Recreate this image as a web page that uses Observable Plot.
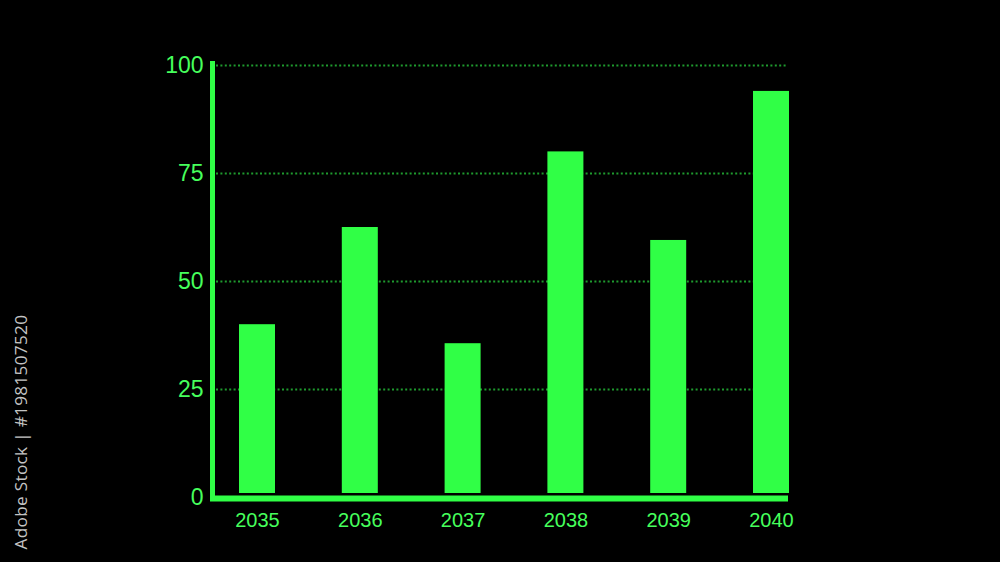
<!DOCTYPE html>
<html>
<head>
<meta charset="utf-8">
<script src="https://cdn.jsdelivr.net/npm/d3@7"></script>
<script src="https://cdn.jsdelivr.net/npm/@observablehq/plot@0.6"></script>
<style>
  html, body { margin: 0; padding: 0; background: #000; }
  #wrap { position: relative; width: 1000px; height: 562px; background: #000; overflow: hidden; }
  #stockid {
    position: absolute; left: 20px; top: 432px;
    transform: translate(-50%, -50%) rotate(-90deg);
    white-space: nowrap; color: #c4c4c4; font-family: "Open Sans", "DejaVu Sans", sans-serif;
    font-size: 17.2px; letter-spacing: 0.3px;
  }
</style>
</head>
<body>
<div id="wrap"><div id="stockid">Adobe Stock | #1981507520</div></div>
<script>
const years = ["2035", "2036", "2037", "2038", "2039", "2040"];
const values = [40, 62.5, 35.6, 80, 59.5, 94];
const gridTicks = [25, 50, 75, 100];
const yTicks = [0, 25, 50, 75, 100];

const data = years.map((y, i) => ({year: y, value: values[i]}));

const barColor = "#30ff46";
const textColor = "#46ff5c";
const gridColor = "#1e9a2e";

const chart = Plot.plot({
  width: 1000,
  height: 562,
  marginLeft: 212,
  marginRight: 212,
  marginTop: 65,
  marginBottom: 65,
  style: {background: "#000", fontFamily: "'Liberation Sans', Arial, sans-serif"},
  x: {domain: years, range: [205.6, 822.4], padding: 0, round: false, axis: null},
  y: {domain: [0, 100], axis: null},
  marks: [
    Plot.ruleY(gridTicks, {stroke: gridColor, strokeWidth: 2, strokeDasharray: "2,2.4", insetLeft: 4}),
    Plot.barY(data, {x: "year", y: "value", fill: barColor, insetLeft: 33.4, insetRight: 33.4, insetBottom: 4}),
    Plot.ruleY([0], {stroke: barColor, strokeWidth: 6, dy: 1, insetLeft: -2}),
    Plot.frame({anchor: "left", stroke: barColor, strokeWidth: 5, insetTop: -2, dx: 0}),
    Plot.axisY(yTicks, {tickSize: 0, tickPadding: 9, fontSize: 23, fill: textColor, color: textColor, label: null}),
    Plot.axisX(years, {tickSize: 0, tickPadding: 15, fontSize: 20, fill: textColor, color: textColor, label: null})
  ]
});
document.getElementById("wrap").prepend(chart);
</script>
</body>
</html>
